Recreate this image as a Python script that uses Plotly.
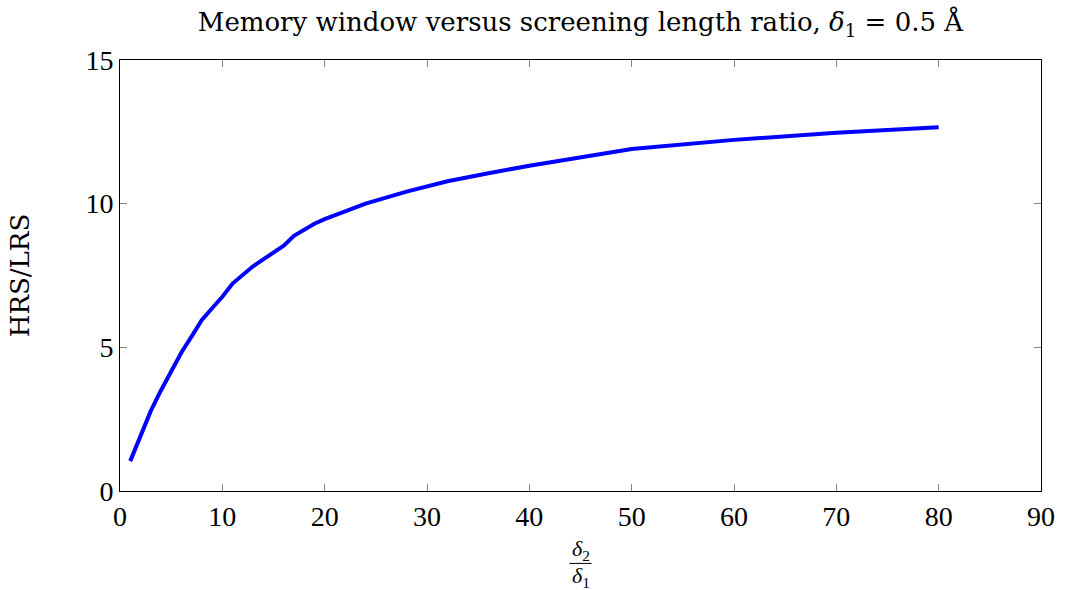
import plotly.graph_objects as go

ratio = [1, 2, 3, 4, 5, 6, 7, 8, 9, 10, 11, 12, 13, 14, 15, 16, 17, 18, 19, 20,
         24, 28, 32, 36, 40, 50, 60, 70, 80]
hrs_lrs = [1.04, 1.92, 2.78, 3.5, 4.14, 4.82, 5.38, 5.95, 6.36, 6.76, 7.22, 7.54,
           7.82, 8.06, 8.3, 8.54, 8.88, 9.1, 9.3, 9.46,
           10.0, 10.42, 10.78, 11.06, 11.32, 11.9, 12.22, 12.47, 12.66]

x_ticks = [0, 10, 20, 30, 40, 50, 60, 70, 80, 90]
y_ticks = [0, 5, 10, 15]

FONT = "Liberation Serif"
WIDE = "DejaVu Serif"

fig = go.Figure()
fig.add_trace(go.Scatter(x=ratio, y=hrs_lrs, mode="lines",
                         line=dict(color="#0000ff", width=4), showlegend=False))

fig.update_layout(
    width=1065, height=590,
    margin=dict(l=120, r=24, t=60, b=99),
    paper_bgcolor="white", plot_bgcolor="white",
    font=dict(family=FONT, color="black"),
    title=dict(text="Memory window versus screening length ratio, <i>δ</i><sub>1</sub> = 0.5 Å",
               x=0.545, xanchor="center", y=0.978, yanchor="top",
               font=dict(size=26, family=WIDE)),
    xaxis=dict(range=[0, 90], tickvals=x_ticks, ticks="inside", ticklen=7,
               tickcolor="#888", showline=True, linecolor="black", linewidth=1,
               mirror="ticks", showgrid=False, zeroline=False, automargin=False,
               tickfont=dict(size=28, family=FONT)),
    yaxis=dict(range=[0, 15], tickvals=y_ticks, ticks="inside", ticklen=7,
               tickcolor="#888", showline=True, linecolor="black", linewidth=1,
               mirror="ticks", showgrid=False, zeroline=False, automargin=False,
               tickfont=dict(size=28, family=FONT),
               title=dict(text="HRS/LRS", font=dict(size=26, family=WIDE), standoff=48)),
)

fig.add_annotation(text="<i>δ</i><sub>2</sub>", xref="paper", yref="paper",
                   x=0.5, y=-0.137, xanchor="center", yanchor="middle",
                   showarrow=False, font=dict(size=22, family=FONT))
fig.add_annotation(text="<i>δ</i><sub>1</sub>", xref="paper", yref="paper",
                   x=0.5, y=-0.199, xanchor="center", yanchor="middle",
                   showarrow=False, font=dict(size=22, family=FONT))
fig.add_shape(type="line", xref="paper", yref="paper",
              x0=0.488, x1=0.512, y0=-0.168, y1=-0.168,
              line=dict(color="black", width=1))

fig.write_html("out.html")
